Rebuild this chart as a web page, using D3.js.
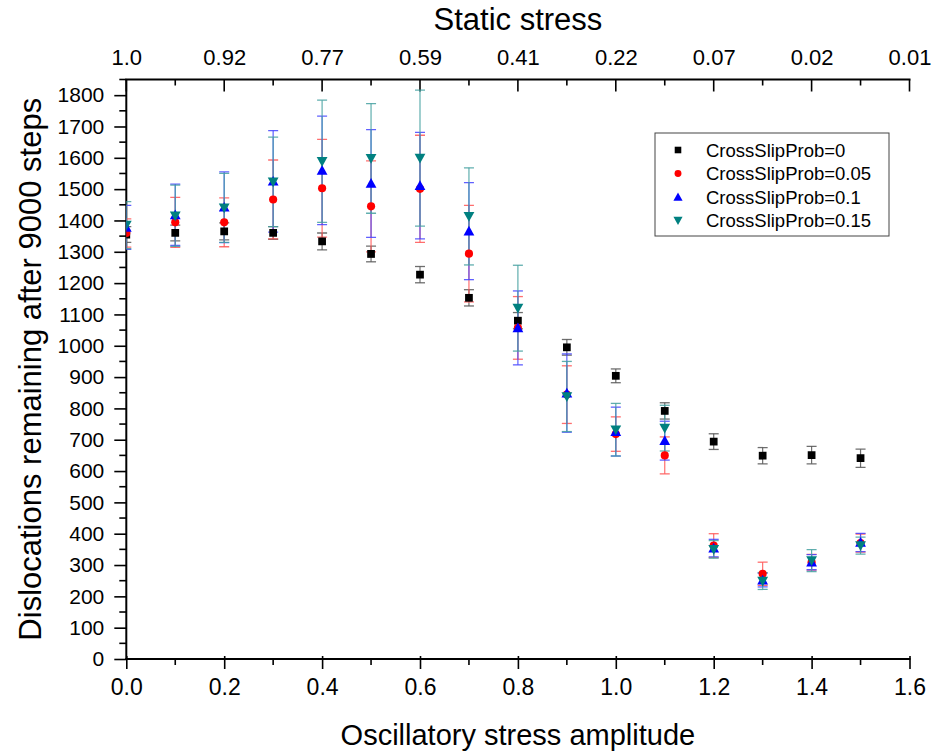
<!DOCTYPE html>
<html>
<head>
<meta charset="utf-8">
<script src="https://cdn.jsdelivr.net/npm/d3@7"></script>
<style>
  html, body { margin: 0; padding: 0; background: #fff; }
  svg { display: block; font-family: "Liberation Sans", Arial, sans-serif; }
</style>
</head>
<body>
<svg id="chart" width="935" height="755"></svg>
<script>
// ---------------- data ----------------
const amplitude = [0.0, 0.1, 0.2, 0.3, 0.4, 0.5, 0.6, 0.7, 0.8, 0.9, 1.0, 1.1, 1.2, 1.3, 1.4, 1.5];

const seriesNames = ["CrossSlipProb=0", "CrossSlipProb=0.05", "CrossSlipProb=0.1", "CrossSlipProb=0.15"];

const prob0    = [1355, 1360, 1365, 1360, 1333, 1293, 1227, 1153, 1080, 995, 904, 792, 694, 649, 651, 641];
const prob0Err = [25, 25, 27, 20, 27, 25, 26, 26, 26, 25, 22, 26, 25, 26, 28, 29];

const prob005    = [1360, 1394, 1394, 1467, 1503, 1445, 1501, 1294, 1057, 844, 718, 650, 362, 272, 309, 370];
const prob005Err = [45, 80, 78, 126, 156, 145, 171, 154, 100, 92, 55, 59, 38, 37, 25, 29];

const prob01    = [1378, 1418, 1442, 1525, 1560, 1518, 1511, 1366, 1057, 849, 726, 697, 354, 252, 309, 372];
const prob01Err = [70, 98, 113, 162, 173, 172, 170, 155, 118, 125, 78, 62, 28, 22, 24, 29];

const prob015    = [1385, 1415, 1440, 1523, 1589, 1598, 1599, 1413, 1120, 838, 732, 737, 350, 249, 314, 362];
const prob015Err = [75, 98, 110, 143, 195, 175, 217, 155, 137, 112, 84, 73, 28, 27, 35, 27];

const bottomTicks = [0.0, 0.2, 0.4, 0.6, 0.8, 1.0, 1.2, 1.4, 1.6];
const topTickPos = [0.0, 0.2, 0.4, 0.6, 0.8, 1.0, 1.2, 1.4, 1.6];
const topTickLabels = ["1.0", "0.92", "0.77", "0.59", "0.41", "0.22", "0.07", "0.02", "0.01"];
const yTicks = [0, 100, 200, 300, 400, 500, 600, 700, 800, 900, 1000, 1100, 1200, 1300, 1400, 1500, 1600, 1700, 1800];

// ---------------- layout ----------------
const svg = d3.select("#chart");
const X0 = 126.3, X1 = 909.5, Y0 = 659, Y1 = 79.5;
const FONT = "'Liberation Sans', Arial, sans-serif";

const x = d3.scaleLinear().domain([0, 1.6]).range([X0, X1]);
const y = d3.scaleLinear().domain([0, 1850]).range([Y0, Y1]);

const colors = ["#000000", "#ff0000", "#0000ff", "#008080"];
const capColors = ["#555555", "#ff5555", "#4444ff", "#44a0a0"];
const shapes = ["square", "circle", "up", "down"];

const series = [
  { name: seriesNames[0], values: prob0, errs: prob0Err },
  { name: seriesNames[1], values: prob005, errs: prob005Err },
  { name: seriesNames[2], values: prob01, errs: prob01Err },
  { name: seriesNames[3], values: prob015, errs: prob015Err }
];

// clip
svg.append("defs").append("clipPath").attr("id", "plotclip")
  .append("rect").attr("x", X0).attr("y", Y1 - 20).attr("width", X1 - X0 + 20).attr("height", Y0 - Y1 + 20);

// ---------------- axes ----------------
const minorX = d3.range(0, 17).map(i => i / 10);
const yMinor = d3.range(50, 1851, 100);

// bottom axis
const gB = svg.append("g").attr("transform", `translate(0,${Y0})`);
gB.call(d3.axisBottom(x).tickValues(bottomTicks).tickFormat(d3.format(".1f")).tickSize(10).tickPadding(10))
  .call(g => g.select(".domain").remove());
gB.selectAll(".tick line").attr("stroke", "#000").attr("stroke-width", 1.6).attr("y1", -3);
gB.selectAll(".tick text").attr("font-size", 23).attr("fill", "#000").attr("font-family", FONT);
gB.selectAll(".minor").data(minorX.filter(v => Math.round(v * 10) % 2 === 1)).enter()
  .append("line").attr("x1", d => x(d)).attr("x2", d => x(d)).attr("y1", 0).attr("y2", 6)
  .attr("stroke", "#000").attr("stroke-width", 1.6);

// left axis
const gL = svg.append("g").attr("transform", `translate(${X0},0)`);
gL.call(d3.axisLeft(y).tickValues(yTicks).tickFormat(d3.format("d")).tickSize(12).tickPadding(10))
  .call(g => g.select(".domain").remove());
gL.selectAll(".tick line").attr("stroke", "#000").attr("stroke-width", 1.6);
gL.selectAll(".tick text").attr("font-size", 21).attr("fill", "#000").attr("font-family", FONT);
gL.selectAll(".minor").data(yMinor).enter()
  .append("line").attr("x1", 0).attr("x2", -7).attr("y1", d => y(d)).attr("y2", d => y(d))
  .attr("stroke", "#000").attr("stroke-width", 1.6);

// top axis (ticks pointing into plot)
const gT = svg.append("g").attr("transform", `translate(0,${Y1})`);
gT.call(d3.axisTop(x).tickValues(topTickPos).tickFormat((d, i) => topTickLabels[i]).tickSize(0).tickPadding(15))
  .call(g => g.select(".domain").remove());
gT.selectAll(".tick line").remove();
gT.selectAll(".tick text").attr("font-size", 22).attr("fill", "#000").attr("font-family", FONT);
gT.selectAll(".tk").data(minorX).enter()
  .append("line").attr("x1", d => x(d)).attr("x2", d => x(d)).attr("y1", 0)
  .attr("y2", d => (Math.round(d * 10) % 2 === 0 ? 12 : 6))
  .attr("stroke", "#000").attr("stroke-width", 1.6);

// axis lines
svg.append("line").attr("x1", X0 - 1).attr("x2", X1 + 1).attr("y1", Y0).attr("y2", Y0).attr("stroke", "#000").attr("stroke-width", 2);
svg.append("line").attr("x1", X0 - 1).attr("x2", X1 + 1).attr("y1", Y1).attr("y2", Y1).attr("stroke", "#000").attr("stroke-width", 2);
svg.append("line").attr("x1", X0).attr("x2", X0).attr("y1", Y1).attr("y2", Y0).attr("stroke", "#000").attr("stroke-width", 2);

// titles
svg.append("text").attr("x", (X0 + X1) / 2).attr("y", 30).attr("text-anchor", "middle")
  .attr("font-size", 31).attr("fill", "#000").text("Static stress");
svg.append("text").attr("x", (X0 + X1) / 2).attr("y", 745).attr("text-anchor", "middle")
  .attr("font-size", 29).attr("fill", "#000").text("Oscillatory stress amplitude");
svg.append("text").attr("transform", `translate(41,${(Y0 + Y1) / 2}) rotate(-90)`)
  .attr("text-anchor", "middle").attr("font-size", 31).attr("fill", "#000")
  .text("Dislocations remaining after 9000 steps");

// ---------------- marks ----------------
const plot = svg.append("g").attr("clip-path", "url(#plotclip)");

function symbolPath(shape) {
  if (shape === "square") return d3.symbol().type(d3.symbolSquare).size(60)();
  if (shape === "circle") return d3.symbol().type(d3.symbolCircle).size(52)();
  const s = 5.4;
  if (shape === "up") return `M0,${-s}L${s},${s * 0.8}L${-s},${s * 0.8}Z`;
  return `M0,${s}L${s},${-s * 0.8}L${-s},${-s * 0.8}Z`;
}

// error bars
series.forEach((s, si) => {
  const g = plot.append("g");
  const pts = amplitude.map((a, i) => ({ a, v: s.values[i], e: s.errs[i] }));
  g.selectAll("line.v").data(pts).enter().append("line")
    .attr("x1", d => x(d.a)).attr("x2", d => x(d.a))
    .attr("y1", d => y(d.v + d.e)).attr("y2", d => y(d.v - d.e))
    .attr("stroke", capColors[si]).attr("stroke-width", 1.2).attr("stroke-opacity", 0.85);
  ["hi", "lo"].forEach(k => {
    g.selectAll("line." + k).data(pts).enter().append("line")
      .attr("x1", d => x(d.a) - 5).attr("x2", d => x(d.a) + 5)
      .attr("y1", d => y(k === "hi" ? d.v + d.e : d.v - d.e))
      .attr("y2", d => y(k === "hi" ? d.v + d.e : d.v - d.e))
      .attr("stroke", capColors[si]).attr("stroke-width", 1.3).attr("stroke-opacity", 0.85);
  });
});

// markers
series.forEach((s, si) => {
  plot.append("g").selectAll("path").data(amplitude.map((a, i) => ({ a, v: s.values[i] }))).enter()
    .append("path").attr("d", symbolPath(shapes[si]))
    .attr("transform", d => `translate(${x(d.a)},${y(d.v)})`)
    .attr("fill", colors[si]);
});

// ---------------- legend ----------------
const lg = svg.append("g");
lg.append("rect").attr("x", 655).attr("y", 133).attr("width", 234).attr("height", 103)
  .attr("fill", "#fff").attr("stroke", "#444").attr("stroke-width", 1);
series.forEach((s, si) => {
  const ry = 150 + si * 23.5;
  lg.append("path").attr("d", symbolPath(shapes[si]))
    .attr("transform", `translate(678,${ry}) scale(0.85)`).attr("fill", colors[si]);
  lg.append("text").attr("x", 706).attr("y", ry + 6.5).attr("font-size", 18.5).attr("fill", "#000").text(s.name);
});
</script>
</body>
</html>
